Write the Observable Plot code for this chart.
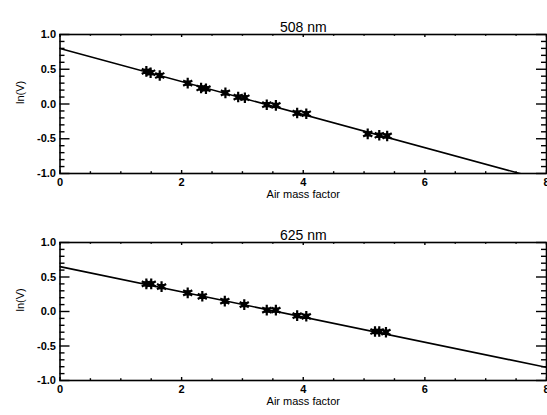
<!DOCTYPE html>
<html><head><meta charset="utf-8">
<script src="https://cdn.jsdelivr.net/npm/d3@7"></script>
<script src="https://cdn.jsdelivr.net/npm/@observablehq/plot@0.6"></script>
<style>
body{margin:0;background:#fff;}
#c{width:547px;height:415px;overflow:hidden;}
#c svg{display:block;}
</style></head><body><div id="c"></div>
<script>
const titles = ["508 nm", "625 nm"];
const airmass508 = [1.42, 1.49, 1.64, 2.10, 2.32, 2.40, 2.72, 2.93, 3.04, 3.40, 3.55, 3.90, 4.05, 5.06, 5.25, 5.38];
const lnV508     = [0.47, 0.45, 0.41, 0.30, 0.23, 0.22, 0.16, 0.10, 0.09, -0.01, -0.02, -0.13, -0.14, -0.43, -0.45, -0.46];
const airmass625 = [1.42, 1.50, 1.67, 2.10, 2.34, 2.71, 3.03, 3.40, 3.55, 3.90, 4.05, 5.18, 5.25, 5.36];
const lnV625     = [0.40, 0.40, 0.36, 0.27, 0.22, 0.15, 0.10, 0.02, 0.02, -0.06, -0.07, -0.29, -0.29, -0.30];
const fitIntercept = [0.80, 0.65];
const fitSlope = [-0.238, -0.1825];
const fitX = [0, 8];
const xTicks = [0, 2, 4, 6, 8];
const xTickLabels = ["0", "2", "4", "6", "8"];
const xMinor = [0.5, 1, 1.5, 2.5, 3, 3.5, 4.5, 5, 5.5, 6.5, 7, 7.5];
const yTicks = [-1, -0.5, 0, 0.5, 1];
const yTickLabels = ["-1.0", "-0.5", "0.0", "0.5", "1.0"];
const yMinor = [-0.9, -0.8, -0.7, -0.6, -0.4, -0.3, -0.2, -0.1, 0.1, 0.2, 0.3, 0.4, 0.6, 0.7, 0.8, 0.9];
const xLabel = "Air mass factor";
const yLabel = "ln(V)";

const W = 547, ML = 59.5, MR = 1;
const FONT = "'Liberation Sans', Arial, Helvetica, sans-serif";

function panel(i, xs, ys, height, mt, mb) {
  const fw = W - ML - MR, fh = height - mt - mb;
  const pts = xs.map((x, k) => ({x, y: ys[k]}));
  const line = fitX.map(x => ({x, y: fitIntercept[i] + fitSlope[i] * x}));
  const yl = yTicks.map((v, k) => ({v, t: yTickLabels[k]}));
  const xl = xTicks.map((v, k) => ({v, t: xTickLabels[k]}));
  return Plot.plot({
    width: W, height,
    marginLeft: ML, marginRight: MR, marginTop: mt, marginBottom: mb,
    style: {fontFamily: FONT, background: "white", color: "black"},
    x: {domain: [0, 8], axis: null},
    y: {domain: [-1, 1], axis: null},
    marks: [
      Plot.line(line, {x: "x", y: "y", stroke: "black", strokeWidth: 1.6, clip: true}),
      Plot.dot(pts, {x: "x", y: "y", symbol: "square", r: 3, fill: "black", stroke: "none"}),
      Plot.dot(pts, {x: "x", y: "y", symbol: "asterisk", r: 5, stroke: "black", strokeWidth: 2.2}),
      // y ticks, left & right
      Plot.tickY(yTicks, {y: d => d, insetRight: fw - 10, stroke: "black", strokeWidth: 1.4}),
      Plot.tickY(yTicks, {y: d => d, insetLeft: fw - 10, stroke: "black", strokeWidth: 1.4}),
      Plot.tickY(yMinor, {y: d => d, insetRight: fw - 5, stroke: "black", strokeWidth: 1.4}),
      Plot.tickY(yMinor, {y: d => d, insetLeft: fw - 5, stroke: "black", strokeWidth: 1.4}),
      // x ticks, bottom & top
      Plot.tickX(xTicks, {x: d => d, insetTop: fh - 3, stroke: "black", strokeWidth: 1.4}),
      Plot.tickX(xTicks, {x: d => d, insetBottom: fh - 3, stroke: "black", strokeWidth: 1.4}),
      Plot.tickX(xMinor, {x: d => d, insetTop: fh - 1.8, stroke: "black", strokeWidth: 1.4}),
      Plot.tickX(xMinor, {x: d => d, insetBottom: fh - 1.8, stroke: "black", strokeWidth: 1.4}),
      Plot.frame({stroke: "black", strokeWidth: 1.6}),
      // tick labels
      Plot.text(yl, {y: "v", text: "t", frameAnchor: "left", dx: -4, textAnchor: "end", fontSize: 11, fontWeight: "bold", fill: "black"}),
      Plot.text(xl, {x: "v", text: "t", frameAnchor: "bottom", dy: 12, fontSize: 11, fontWeight: "bold", fill: "black"}),
      // axis titles
      Plot.text([xLabel], {frameAnchor: "bottom", dy: 24, fontSize: 11, fill: "black"}),
      Plot.text([yLabel], {frameAnchor: "left", dx: -(ML - 20), rotate: -90, fontSize: 11, fill: "black"}),
      // panel title
      Plot.text([titles[i]], {frameAnchor: "top", dy: -12, fontSize: 14, fill: "black"})
    ]
  });
}

const c = document.getElementById("c");
c.append(panel(0, airmass508, lnV508, 207, 34, 34));
c.append(panel(1, airmass625, lnV625, 208, 35, 35));
</script>
</body></html>
